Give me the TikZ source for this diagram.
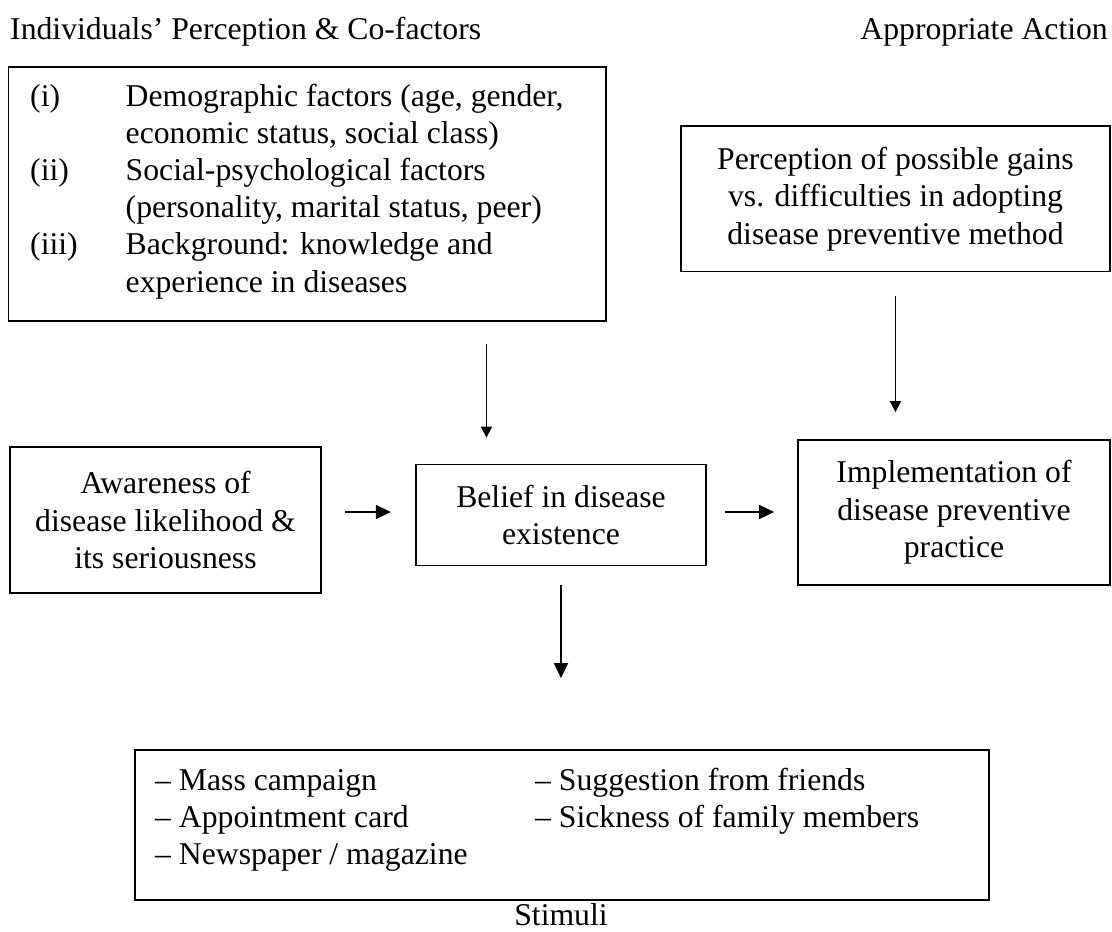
\documentclass[tikz,border=0pt]{standalone}
\usepackage{fontspec}
\setmainfont{Liberation Serif}
\usetikzlibrary{arrows.meta}
\begin{document}
\begin{tikzpicture}[x=1pt,y=-1pt,
  box/.style={draw,line width=1.8pt,inner sep=0pt},
  txt/.style={font=\fontsize{31.7}{37.5}\selectfont},
  cbox/.style={box,txt,align=center},
  ln/.style={txt,inner sep=0pt,anchor=base west},
  arr/.style={line width=1.8pt,-{Triangle[length=15pt,width=14pt]}},
  arrs/.style={line width=1.8pt,-{Triangle[length=11pt,width=11pt]}}]
\useasboundingbox (0,0) rectangle (1112,932);

% titles
\node[ln] (t1) at (10,39) {Individuals’ Perception \& Co-factors};
\node[txt,inner sep=0pt,anchor=base east] (t2) at (1108,39) {Appropriate Action};

% box 1
\node[box,minimum width=597.5pt,minimum height=254pt] (box1) at (307.25,194) {};
\node[ln] (l1a) at (30,106) {(i)};
\node[ln] (l1b) at (125.5,106) {Demographic factors (age, gender,};
\node[ln] (l1c) at (125.5,143) {economic status, social class)};
\node[ln] (l2a) at (30,180) {(ii)};
\node[ln] (l2b) at (125.5,180) {Social-psychological factors};
\node[ln] (l2c) at (125.5,217) {(personality, marital status, peer)};
\node[ln] (l3a) at (30,254) {(iii)};
\node[ln] (l3b) at (125.5,254) {Background: knowledge and};
\node[ln] (l3c) at (125.5,292) {experience in diseases};

% box 2
\node[cbox,minimum width=429pt,minimum height=145.5pt] (box2) at (895.5,198.75)
  {Perception of possible gains\\vs. difficulties in adopting\\disease preventive method};

% middle row
\node[cbox,minimum width=311pt,minimum height=146pt] (aware) at (165.5,520)
  {Awareness of\\disease likelihood \&\\its seriousness};
\node[cbox,minimum width=290.5pt,minimum height=101pt] (belief) at (561,515)
  {Belief in disease\\existence};
\node[cbox,minimum width=312pt,minimum height=145pt] (impl) at (954,512.5)
  {Implementation of\\disease preventive\\practice};

% stimuli box
\node[box,minimum width=854pt,minimum height=150pt] (stim) at (562,825) {};
\node[ln] (s1) at (155,790) {– Mass campaign};
\node[ln] (s2) at (155,827) {– Appointment card};
\node[ln] (s3) at (155,864) {– Newspaper / magazine};
\node[ln] (s4) at (535,790) {– Suggestion from friends};
\node[ln] (s5) at (535,827) {– Sickness of family members};
\node[txt,inner sep=0pt,anchor=base] (stimlab) at (561,925) {Stimuli};

% connectors
\coordinate (ax) at (486.5,0);
\coordinate (row) at (0,512);
\draw[arrs,shorten <=22pt,shorten >=26pt] (box1.south -| ax) -- (belief.north -| ax);
\draw[arrs,shorten <=23.5pt,shorten >=27pt] (box2.south) -- (impl.north -| box2.south);
\draw[arr,shorten <=23pt,shorten >=24pt] (aware.east |- row) -- (belief.west |- row);
\draw[arr,shorten <=18pt,shorten >=23pt] (belief.east |- row) -- (impl.west |- row);
\draw[arr,shorten <=19pt,shorten >=71pt] (belief.south) -- (stim.north -| belief.south);
\end{tikzpicture}
\end{document}
